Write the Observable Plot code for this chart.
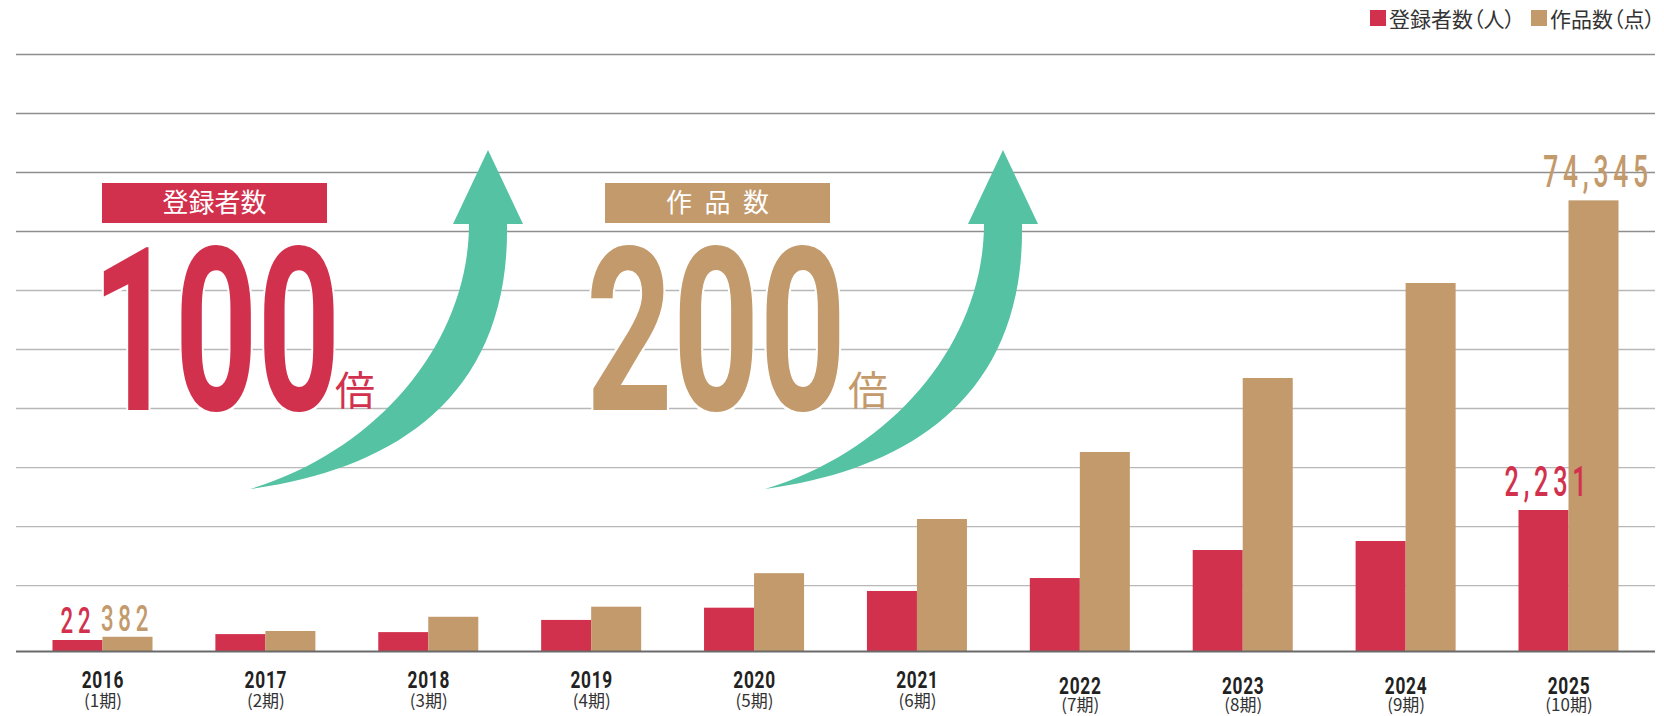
<!DOCTYPE html>
<html>
<head>
<meta charset="utf-8">
<script src="https://cdn.jsdelivr.net/npm/d3@7"></script>
<script src="https://cdn.jsdelivr.net/npm/@observablehq/plot@0.6"></script>
<style>
  html, body { margin: 0; padding: 0; background: #fff; }
  #wrap { position: relative; width: 1664px; height: 716px; overflow: hidden; }
  #legend { position: absolute; top: 3px; right: 9px; display: flex; align-items: center;
            font-family: "Noto Sans CJK JP", "Noto Sans", sans-serif; font-size: 21px; color: #333;
            font-feature-settings: "palt"; }
  #legend .item { display: flex; align-items: center; margin-left: 16px; }
  #legend .sw { display: inline-block; width: 16px; height: 16px; margin-right: 3px; }
  svg { display: block; }
</style>
</head>
<body>
<div id="wrap"><div id="legend"></div></div>
<script>
// ---------------- data ----------------
const years = ["2016", "2017", "2018", "2019", "2020", "2021", "2022", "2023", "2024", "2025"];
const periods = ["(1期)", "(2期)", "(3期)", "(4期)", "(5期)", "(6期)", "(7期)", "(8期)", "(9期)", "(10期)"];
const registrants = [22, 122, 156, 363, 571, 855, 1075, 1551, 1704, 2231];   // 登録者数（人）
const works = [382, 1360, 3770, 5480, 11160, 20340, 31700, 44240, 60340, 74345]; // 作品数（点）
const seriesNames = ["登録者数（人）", "作品数（点）"];
const headlineLabels = ["登録者数", "作品数"];
const headlineValues = ["100", "200"];
const headlineUnit = "倍";

// ---------------- styles ----------------
const RED = "#d2314d", TAN = "#c39a6c", TEAL = "#54c2a3";
const seriesColors = [RED, TAN];

// Two independent value axes (no visible y axis). Both are mapped onto the works axis.
const worksDomain = [-2030, 99150];
const regDomain = [-165, 9980];
const regToWorks = d3.scaleLinear().domain(regDomain).range(worksDomain);
const gridStep = 10000;

const data = years.map((year, i) => ({year, period: periods[i], reg: registrants[i], works: works[i], i}));
const first = data.filter(d => d.i === 0);
const last = data.filter(d => d.i === data.length - 1);
const fmt = d3.format(",");

const gridDark = d3.range(0, 4).map(k => worksDomain[1] - k * gridStep);
const gridLight = d3.range(4, 10).map(k => worksDomain[1] - k * gridStep);

const HALF = 50; // half of the band (one bar per half)

const numFont = "Roboto, 'Noto Sans', sans-serif";
const jpFont = "'Noto Sans CJK JP', 'Noto Sans', sans-serif";

const plot = Plot.plot({
  width: 1664,
  height: 716,
  marginTop: 54,
  marginBottom: 65,
  marginLeft: 16,
  marginRight: 9,
  style: {background: "#fff", overflow: "visible"},
  x: {type: "band", domain: years, paddingInner: 0.386, paddingOuter: 0.224, round: false, axis: null},
  y: {domain: worksDomain, axis: null},
  marks: [
    Plot.ruleY(gridDark, {stroke: "#8e8e8e", strokeWidth: 1.3}),
    Plot.ruleY(gridLight, {stroke: "#b8b8b8", strokeWidth: 1.3}),
    Plot.barY(data, {x: "year", y1: () => worksDomain[0], y2: d => regToWorks(d.reg), fill: RED, insetRight: HALF}),
    Plot.barY(data, {x: "year", y1: () => worksDomain[0], y2: "works", fill: TAN, insetLeft: HALF}),
    Plot.ruleY([worksDomain[0]], {stroke: "#6a6a6a", strokeWidth: 2}),
    // value labels (first and last year)
    Plot.text(first, {x: "year", y: d => regToWorks(d.reg), text: d => fmt(d.reg), dx: -HALF / 2, dy: -7,
      lineAnchor: "bottom", fill: RED, fontSize: 37, fontFamily: numFont, fontWeight: 500, ariaDescription: "val-small"}),
    Plot.text(first, {x: "year", y: "works", text: d => fmt(d.works), dx: HALF / 2 - 1, dy: -6,
      lineAnchor: "bottom", fill: TAN, fontSize: 37, fontFamily: numFont, fontWeight: 500, ariaDescription: "val-small"}),
    Plot.text(last, {x: "year", y: d => regToWorks(d.reg), text: d => fmt(d.reg), dx: -HALF / 2 + 4, dy: -15,
      lineAnchor: "bottom", fill: RED, fontSize: 42, fontFamily: numFont, fontWeight: 500, ariaDescription: "val-big"}),
    Plot.text(last, {x: "year", y: "works", text: d => fmt(d.works), dx: HALF / 2 + 4, dy: -14,
      lineAnchor: "bottom", fill: TAN, fontSize: 44, fontFamily: numFont, fontWeight: 500, ariaDescription: "val-big"}),
    // category labels
    Plot.text(data.filter(d => d.i < 6), {x: "year", text: "year", frameAnchor: "bottom", lineAnchor: "top", dy: 19,
      fill: "#222", fontSize: 24, fontFamily: numFont, fontWeight: 700, ariaDescription: "year"}),
    Plot.text(data.filter(d => d.i >= 6), {x: "year", text: "year", frameAnchor: "bottom", lineAnchor: "top", dy: 25,
      fill: "#222", fontSize: 24, fontFamily: numFont, fontWeight: 700, ariaDescription: "year"}),
    Plot.text(data.filter(d => d.i < 6), {x: "year", text: "period", frameAnchor: "bottom", lineAnchor: "top", dy: 43,
      fill: "#333", fontSize: 17, fontFamily: jpFont}),
    Plot.text(data.filter(d => d.i >= 6), {x: "year", text: "period", frameAnchor: "bottom", lineAnchor: "top", dy: 47,
      fill: "#333", fontSize: 17, fontFamily: jpFont})
  ]
});

const svg = d3.select(plot);

// condensed look for numeric labels
function condense(sel, sx, spacing) {
  sel.each(function () {
    const t = this.getAttribute("transform") || "";
    const x = this.getAttribute("x");
    let pre = "";
    if (x != null && x !== "" && !isNaN(+x)) { pre = ` translate(${+x},0)`; this.setAttribute("x", 0); }
    this.setAttribute("transform", `${t}${pre} scale(${sx},1)`);
    if (spacing != null) this.style.letterSpacing = spacing + "px";
  });
}
condense(svg.selectAll('g[aria-description="val-small"] text'), 0.6, 8);
condense(svg.selectAll('g[aria-description="val-big"] text'), 0.6, 8);
condense(svg.selectAll('g[aria-description="year"] text'), 0.72, 1);

// ---------------- annotations ----------------
const ann = svg.append("g").attr("class", "annotations").attr("text-anchor", "start");

function arrowPath(ox) {
  // tapered curved arrow; tail at lower left, tip pointing up
  const p = (x, y) => `${x + ox},${y}`;
  return `M${p(250, 489)} C${p(390, 470)} ${p(510, 400)} ${p(507, 224)} L${p(523, 224)} L${p(488, 150)} L${p(453, 224)} L${p(469, 224)} C${p(469, 340)} ${p(380, 450)} ${p(250, 489)} Z`;
}

const panels = [
  {ox: 0, color: RED, box: [102, 327], label: headlineLabels[0], labelSpacing: 0, value: headlineValues[0], vx: 92, vsx: 0.63, vs: 0, ux: 335},
  {ox: 515, color: TAN, box: [605, 830], label: headlineLabels[1], labelSpacing: 12.5, value: headlineValues[1], vx: 586, vsx: 0.66, vs: 0, ux: 848}
];

panels.forEach(p => {
  ann.append("path").attr("d", arrowPath(p.ox)).attr("fill", TEAL);
  ann.append("rect").attr("x", p.box[0]).attr("y", 183).attr("width", p.box[1] - p.box[0]).attr("height", 40).attr("fill", p.color);
  ann.append("text")
    .attr("x", (p.box[0] + p.box[1]) / 2 + p.labelSpacing / 2).attr("y", 212)
    .attr("text-anchor", "middle").attr("fill", "#fff")
    .style("font-family", jpFont).style("font-size", "26px").style("font-weight", 400)
    .style("letter-spacing", p.labelSpacing + "px")
    .text(p.label);
  ann.append("text")
    .attr("transform", `translate(${p.vx},410) scale(${p.vsx},1)`)
    .attr("text-anchor", "start")
    .attr("fill", p.color).attr("stroke", "#fff").attr("stroke-width", 6).attr("paint-order", "stroke")
    .style("font-family", numFont).style("font-size", "229px").style("font-weight", 700)
    .style("letter-spacing", p.vs + "px")
    .text(p.value);
  ann.append("text")
    .attr("x", p.ux).attr("y", 405)
    .attr("text-anchor", "start")
    .attr("fill", p.color)
    .style("font-family", jpFont).style("font-size", "40px").style("font-weight", 400)
    .text(headlineUnit);
});

document.getElementById("wrap").appendChild(plot);

// legend (HTML, over the top margin)
const legend = d3.select("#legend");
seriesNames.forEach((name, i) => {
  const item = legend.append("div").attr("class", "item");
  item.append("span").attr("class", "sw").style("background", seriesColors[i]);
  item.append("span").text(name);
});
</script>
</body>
</html>
